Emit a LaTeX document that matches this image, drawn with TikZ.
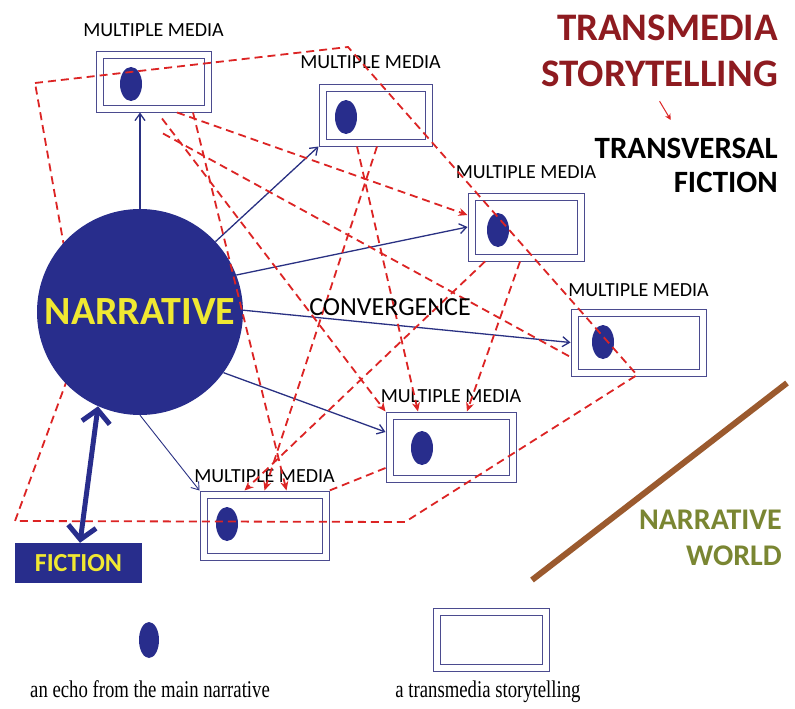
\documentclass[tikz,border=0pt]{standalone}
\usepackage{fontspec}
\setmainfont{Carlito}
\newfontfamily\notefont{Liberation Serif}
\usepackage{tikz}
\usetikzlibrary{arrows.meta,positioning,calc,shapes.geometric}
\usepackage{xcolor}
\definecolor{narrblue}{HTML}{282D8C}
\definecolor{boxline}{HTML}{4B4B8F}
\definecolor{linkblue}{HTML}{2A3183}
\definecolor{redlink}{HTML}{DC2424}
\definecolor{titlered}{HTML}{8E1B20}
\definecolor{worldgreen}{HTML}{7A8632}
\definecolor{worldbrown}{HTML}{9B5A2E}
\definecolor{fictyellow}{HTML}{F0E832}

\begin{document}
\begin{tikzpicture}[x=1pt, y=-1pt,
  every node/.style={font=\fontsize{20}{22}\selectfont},
  media/.style={draw=boxline, double=white, double distance=6pt,
                line width=1pt, outer sep=4pt},
  echo/.style={ellipse, fill=narrblue, minimum width=22pt,
               minimum height=34pt, inner sep=0pt},
  mlabel/.style={inner sep=0pt, font=\fontsize{20}{22}\selectfont},
  flow/.style={-{Straight Barb[length=7pt,width=10pt]}, draw=linkblue, line width=1.3pt},
  echoline/.style={draw=redlink, line width=1.8pt, dash pattern=on 8pt off 5pt},
  echoarr/.style={echoline, -{Stealth[length=9pt,width=8pt]}},
  bigtitle/.style={anchor=north east, inner sep=0pt, align=right}
]
  \fill[white] (0,0) rectangle (795,709);
  \useasboundingbox (0,0) rectangle (795,709);

  % Media boxes, each with its echo
  \node[media, minimum width=108pt, minimum height=53pt] (m1) at (153.5,82) {};
  \node[media, minimum width=106pt, minimum height=55pt] (m2) at (375.5,115) {};
  \node[media, minimum width=109pt, minimum height=61pt] (m3) at (526,227) {};
  \node[media, minimum width=128pt, minimum height=60pt] (m4) at (638.5,342.5) {};
  \node[media, minimum width=123pt, minimum height=63pt] (m5) at (451,447) {};
  \node[media, minimum width=122pt, minimum height=62pt] (m6) at (264.5,525.5) {};
  \node[echo] (e1) at (131,84) {};
  \node[echo] (e2) at (346,117) {};
  \node[echo] (e3) at (498,230) {};
  \node[echo] (e4) at (603,342) {};
  \node[echo] (e5) at (422,448) {};
  \node[echo] (e6) at (227,524) {};

  \node[mlabel, above=15pt of m1] (l1) {MULTIPLE MEDIA};
  \node[mlabel, above=15pt of m2, xshift=-5pt] (l2) {MULTIPLE MEDIA};
  \node[mlabel, above=14pt of m3] (l3) {MULTIPLE MEDIA};
  \node[mlabel, above=12pt of m4] (l4) {MULTIPLE MEDIA};
  \node[mlabel, above=9pt of m5] (l5) {MULTIPLE MEDIA};
  \node[mlabel, above=8pt of m6] (l6) {MULTIPLE MEDIA};

  % Outer hull of the story world
  \draw[echoline] (35,83) -- (348,47) -- (637,375) -- (405,522) -- (15,521) -- (81,342) -- cycle;

  % Main narrative
  \node[circle, fill=narrblue, minimum size=206pt, inner sep=0pt, text=fictyellow,
        font=\bfseries\fontsize{40}{44}\selectfont] (narr) at (140,312) {NARRATIVE};
  \node[fill=narrblue, text=fictyellow, minimum width=127pt, minimum height=40pt,
        font=\bfseries\fontsize{26}{28}\selectfont] (fic) at (78.5,563) {FICTION};
  \draw[draw=narrblue, line width=5pt,
        {Straight Barb[length=13pt,width=28pt]}-{Straight Barb[length=13pt,width=28pt]}]
    (narr.-114) -- ([xshift=1.5pt]fic.north);

  \draw[flow] (narr.north) -- (narr.north |- m1.south);
  \draw[flow] (narr.43) -- (m2.south west);
  \draw[flow] (narr.21) -- (m3.west);
  \draw[flow] (narr.1) -- (m4.west);
  \draw[flow] (narr.-36) -- ([yshift=15pt]m5.west);
  \draw[flow, line width=0.9pt] (narr.south) -- (m6.north west);

  % Echo links between the media
  \draw[echoarr] ([xshift=23.5pt]m1.south) -- ([yshift=12pt]m3.west);
  \draw[echoline] ([xshift=9.5pt,yshift=-21pt]m1.south) -- ([yshift=-14.5pt]m4.west);
  \draw[echoarr] ([xshift=8.5pt,yshift=-6pt]m1.south) -- (m5.north west);
  \draw[echoarr] ([xshift=39.5pt]m1.south) -- ([xshift=22pt]m6.north);
  \draw[echoarr] ([xshift=1.5pt]m2.south) -- (m6.north);
  \draw[echoarr] ([xshift=-18.5pt]m2.south) -- ([xshift=-33pt]m5.north);
  \draw[echoarr] ([xshift=-6pt]m3.south) -- ([xshift=16pt]m5.north);
  \draw[echoarr] ([xshift=-41pt]m3.south) -- ([xshift=-20pt]m6.north);
  \draw[echoline] ([yshift=-21pt]m5.west) -- (m6.north east);

  \node[anchor=base, inner sep=0pt, font=\fontsize{26}{28}\selectfont] (conv) at (390,315) {CONVERGENCE};

  % Titles
  \node[bigtitle, text=titlered, font=\bfseries\fontsize{39}{46}\selectfont] (tms) at (778,15)
    {TRANSMEDIA\\STORYTELLING};
  \node[bigtitle, font=\bfseries\fontsize{31}{34}\selectfont] (tvf) at (778,138)
    {TRANSVERSAL\\FICTION};
  \draw[draw=redlink, line width=1pt, -{Stealth[length=6pt,width=6pt]}]
    ([yshift=-14pt]tms.south) -- ([xshift=-15.5pt,yshift=18pt]tvf.north);

  \node[bigtitle, text=worldgreen, font=\bfseries\fontsize{30}{36}\selectfont] (nw) at (782,510)
    {NARRATIVE\\WORLD};
  \draw[worldbrown, line width=6pt] (532,580) -- (787,383);

  % Key
  \node[echo, minimum width=20pt, minimum height=36pt] (ke) at (149,640) {};
  \node[media, minimum width=109pt, minimum height=56pt] (km) at (491,639.5) {};
  \node[anchor=base, inner sep=0pt, font=\notefont\fontsize{24}{26}\selectfont] (kt1) at (150,697)
    {\scalebox{0.78}[1]{an echo from the main narrative}};
  \node[anchor=base, inner sep=0pt, font=\notefont\fontsize{24}{26}\selectfont] (kt2) at (488,697)
    {\scalebox{0.78}[1]{a transmedia storytelling}};
\end{tikzpicture}
\end{document}
